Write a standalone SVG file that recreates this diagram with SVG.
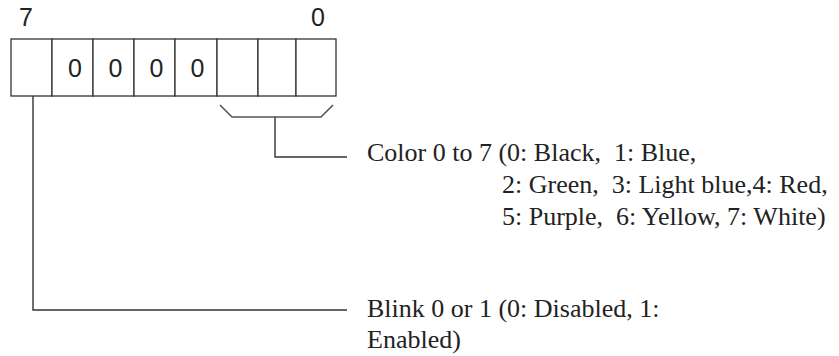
<svg xmlns="http://www.w3.org/2000/svg" width="839" height="356" viewBox="0 0 839 356">
<style>
.cell{fill:#fff;stroke:#333;stroke-width:1.3}
.bit{font-family:"Liberation Sans",Arial,sans-serif;font-size:25px;fill:#222}
.lbl{font-family:"Liberation Serif","Times New Roman",serif;font-size:26px;fill:#222}
.con{fill:none;stroke:#333;stroke-width:1.4}
.brk{fill:none;stroke:#555;stroke-width:1.6}
</style>
<rect width="839" height="356" fill="#fff"/>
<g id="register">
<rect class="cell" x="11" y="39" width="41" height="57"/>
<rect class="cell" x="52" y="39" width="41" height="57"/>
<rect class="cell" x="93" y="39" width="41" height="57"/>
<rect class="cell" x="134" y="39" width="41" height="57"/>
<rect class="cell" x="175" y="39" width="42" height="57"/>
<rect class="cell" x="217" y="39" width="41" height="57"/>
<rect class="cell" x="258" y="39" width="38" height="57"/>
<rect class="cell" x="296" y="39" width="40" height="57"/>
<text class="bit" x="75" y="77" text-anchor="middle">0</text>
<text class="bit" x="115.5" y="77" text-anchor="middle">0</text>
<text class="bit" x="156.5" y="77" text-anchor="middle">0</text>
<text class="bit" x="197.5" y="77" text-anchor="middle">0</text>
</g>
<g id="bit-labels">
<text class="bit" x="19" y="26">7</text>
<text class="bit" x="311" y="26">0</text>
</g>
<g id="connectors">
<path class="brk" d="M220,105 L232,117 L321,117 L333,105"/>
<path class="con" d="M275,117 V157 H347"/>
<path class="con" d="M33,96 V310 H347" stroke="#555"/>
</g>
<g id="color-label">
<text class="lbl" x="367" y="161" xml:space="preserve">Color 0 to 7 (0: Black,  1: Blue,</text>
<text class="lbl" x="502" y="193" xml:space="preserve">2: Green,  3: Light blue,4: Red,</text>
<text class="lbl" x="502" y="225" xml:space="preserve">5: Purple,  6: Yellow, 7: White)</text>
</g>
<g id="blink-label">
<text class="lbl" x="367" y="317">Blink 0 or 1 (0: Disabled, 1:</text>
<text class="lbl" x="367" y="348">Enabled)</text>
</g>
</svg>
